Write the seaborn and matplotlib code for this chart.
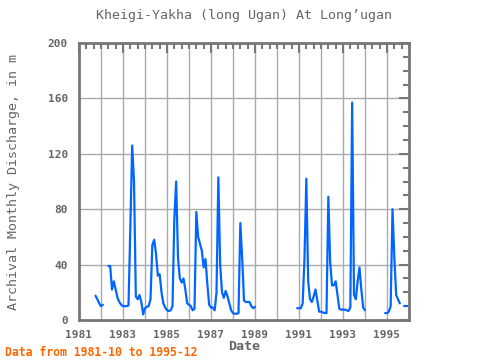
import numpy as np
import pandas as pd
import matplotlib
matplotlib.use("Agg")
import matplotlib.pyplot as plt
from matplotlib.ticker import MultipleLocator, FixedLocator
import seaborn as sns

nan = np.nan
# monthly discharge, Jan..Dec of each year (NaN = missing)
q1981 = [nan, nan, nan, nan, nan, nan, nan, nan, nan, 17.5, 15, 12]
q1982 = [10, 11, nan, nan, 39, 39, 22, 28, 22, 16, 13, 11]
q1983 = [10, 10, 10, 10.5, 67, 126, 100, 17, 15, 18, 13, 4]
q1984 = [8.5, 9.5, 10, 15, 54, 58, 48, 32, 33, 20, 12, 9]
q1985 = [7, 6.5, 7, 10, 73, 100, 45, 30, 27, 30, 22, 12]
q1986 = [11, 10, 7, 8, 78, 60, 55, 50, 38, 44, 26, 11]
q1987 = [9, 9, 7, 20, 103, 40, 20, 16, 21, 17, 12, 7]
q1988 = [5, 4.5, 4.5, 5, 70, 45, 14, 13, 13, 13, 10, 8.5]
q1989 = [9.5, nan, nan, nan, nan, nan, nan, nan, nan, nan, nan, nan]
q1990 = [nan, nan, nan, nan, nan, nan, nan, nan, nan, nan, nan, 8.5]
q1991 = [8.5, 8.5, 12, 45, 102, 28, 15, 13, 17, 22, 14, 6]
q1992 = [6, 5.5, 5, 5, 89, 42, 25, 25, 28, 18, 8, 7.5]
q1993 = [7.5, 7.5, 7, 6.5, 9, 157, 18, 15, 28, 38, 22, 9]
q1994 = [7, nan, nan, nan, nan, nan, nan, nan, nan, nan, nan, 5]
q1995 = [5, 6, 10, 80, 45, 18, 15, 12, nan, nan, 10, 10]

years = list(range(1981, 1996))
all_q = (q1981 + q1982 + q1983 + q1984 + q1985 + q1986 + q1987 + q1988 +
         q1989 + q1990 + q1991 + q1992 + q1993 + q1994 + q1995)

df = pd.DataFrame({"t": 1981 + np.arange(len(all_q)) / 12.0, "q": all_q})
# give each unbroken run its own unit so gaps stay gaps
df["seg"] = df["q"].isna().cumsum()
df = df.dropna()

sns.set_style("white")
plt.rcParams["font.family"] = ["DejaVu Sans Mono", "DejaVu Sans"]

grey = "#666666"
fig = plt.figure(figsize=(4.8, 3.6), dpi=100)
ax = fig.add_axes([79 / 480, 40 / 360, 330 / 480, 277 / 360])

for yr in range(1982, 1996):
    ax.axvline(yr, color="#aaaaaa", lw=1, zorder=0)
for yv in range(40, 200, 40):
    ax.axhline(yv, color="#aaaaaa", lw=1, zorder=0)

sns.lineplot(data=df, x="t", y="q", units="seg", estimator=None,
             color="#0066ff", lw=1.6, ax=ax)

ax.set_xlim(1981, 1996)
ax.set_ylim(0, 200)
ax.xaxis.set_major_locator(FixedLocator(years[::2]))
ax.xaxis.set_minor_locator(MultipleLocator(1 / 3))
ax.yaxis.set_major_locator(MultipleLocator(40))
ax.yaxis.set_minor_locator(MultipleLocator(10))
ax.tick_params(which="both", direction="in", top=True, right=True,
               color="#777777", width=1.5, labelcolor=grey, labelsize=8)
ax.tick_params(which="major", length=7)
ax.tick_params(which="minor", length=4)
ax.tick_params(axis="x", which="major", pad=7)
ax.tick_params(axis="y", which="major", pad=8)
for lab in ax.get_xticklabels() + ax.get_yticklabels():
    lab.set_fontweight("bold")

for sp in ax.spines.values():
    sp.set_color("#777777")
    sp.set_linewidth(2)

ax.set_title("Kheigi-Yakha (long Ugan) At Long\u2019ugan", color=grey,
             fontsize=9.6, pad=17)
ax.set_xlabel("Date", color=grey, fontsize=9.6, fontweight="bold", labelpad=0)
ax.set_ylabel("Archival Monthly Discharge, in m", color=grey, fontsize=9.6,
              labelpad=20)
fig.text(5 / 480, 1 - 352 / 360, "Data from 1981-10 to 1995-12",
         color="#ff6600", fontsize=8.3, fontweight="bold", va="center")

fig.savefig("out.png", dpi=100)
